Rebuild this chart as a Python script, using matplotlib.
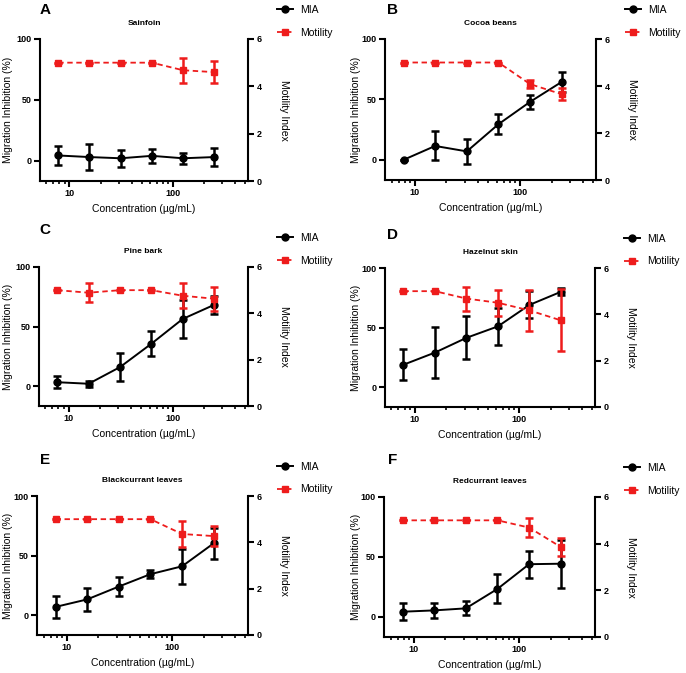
import matplotlib
matplotlib.use("Agg")
import matplotlib.pyplot as plt
import numpy as np
from matplotlib.lines import Line2D
from matplotlib.ticker import LogLocator, NullFormatter, FixedLocator, FixedFormatter

plt.rcParams['font.family'] = ['Liberation Sans', 'DejaVu Sans']

# concentrations (ug/mL)
conc = [7.8, 15.6, 31.25, 62.5, 125, 250]

letters = ['A', 'B', 'C', 'D', 'E', 'F']
titles = ['Sainfoin', 'Cocoa beans', 'Pine bark', 'Hazelnut skin',
          'Blackcurrant leaves', 'Redcurrant leaves']

# migration inhibition (%) mean and error
mia = [
    [4.3, 3.0, 2.0, 4.0, 2.0, 3.0],
    [0.0, 11.5, 7.0, 29.5, 48.0, 64.5],
    [3.3, 2.0, 16.0, 35.6, 56.4, 68.2],
    [18.8, 29.0, 41.4, 51.0, 69.0, 80.0],
    [6.9, 13.2, 24.0, 34.4, 41.0, 60.3],
    [4.4, 5.5, 7.2, 23.4, 44.0, 44.4],
]
mia_err = [
    [8.0, 11.0, 7.0, 5.5, 4.4, 7.6],
    [0.0, 12.0, 10.5, 8.5, 6.0, 8.5],
    [5.2, 2.7, 12.0, 10.7, 15.7, 7.8],
    [13.0, 21.3, 18.0, 15.3, 11.3, 2.8],
    [9.2, 9.4, 7.9, 3.3, 14.5, 13.0],
    [7.0, 6.3, 5.9, 12.1, 11.4, 20.0],
]

# motility index mean and error
mot = [
    [5.0, 5.0, 5.0, 5.0, 4.68, 4.6],
    [5.0, 5.0, 5.0, 5.0, 4.08, 3.65],
    [5.0, 4.89, 5.0, 5.0, 4.76, 4.63],
    [5.0, 5.0, 4.68, 4.5, 4.17, 3.74],
    [5.0, 5.0, 5.0, 5.0, 4.36, 4.27],
    [5.0, 5.0, 5.0, 5.0, 4.69, 3.86],
]
mot_err = [
    [0.0, 0.0, 0.0, 0.0, 0.52, 0.48],
    [0.0, 0.0, 0.0, 0.0, 0.18, 0.25],
    [0.0, 0.4, 0.0, 0.0, 0.53, 0.51],
    [0.0, 0.0, 0.52, 0.56, 0.9, 1.34],
    [0.0, 0.0, 0.0, 0.0, 0.54, 0.42],
    [0.0, 0.0, 0.0, 0.0, 0.42, 0.39],
]

# axes boxes in pixels (left, top, right, bottom) for a 686x673 figure
W, H = 686, 673
boxes = [
    (40, 39, 248, 181),
    (385, 39, 596, 180),
    (39, 267, 248, 406),
    (385, 268, 595, 407),
    (37, 496, 248, 635),
    (384, 497, 595, 637),
]
# panel letter centres in pixels
letter_pos = [(45, 10), (393, 10), (45, 230), (393, 235), (45, 460), (393, 460)]
# x centre (pixels) of the left y label
ylabel_x = [8, 356, 8, 356, 8, 356]

fig = plt.figure(figsize=(W / 100, H / 100), dpi=100)

red = '#ee1c1c'
dash = (0, (3, 2))

for i in range(6):
    l, t, r, b = boxes[i]
    ax = fig.add_axes([l / W, (H - b) / H, (r - l) / W, (b - t) / H])
    ax2 = ax.twinx()

    ax.errorbar(conc, mia[i], yerr=mia_err[i], color='black', lw=1.4,
                marker='o', ms=5, elinewidth=1.8, capsize=2.6, capthick=1.8,
                zorder=3)
    ax2.errorbar(conc, mot[i], yerr=mot_err[i], color=red, lw=1.3,
                 ls=dash, marker='s', ms=5, elinewidth=1.8,
                 capsize=2.6, capthick=1.8, zorder=2)

    ax.set_xscale('log')
    ax.set_xlim(5.2, 530)
    ax.set_ylim(-16.67, 100)
    ax2.set_ylim(0, 6)

    ax.set_yticks([0, 50, 100])
    ax2.set_yticks([0, 2, 4, 6])
    ax.xaxis.set_major_locator(FixedLocator([10, 100]))
    ax.xaxis.set_major_formatter(FixedFormatter(['10', '100']))
    ax.xaxis.set_minor_locator(LogLocator(base=10, subs=np.arange(2, 10)))
    ax.xaxis.set_minor_formatter(NullFormatter())

    for a in (ax, ax2):
        a.spines['top'].set_visible(False)
        for s in ('left', 'right', 'bottom'):
            a.spines[s].set_linewidth(1.5)
        a.tick_params(which='major', length=4, width=1.5, labelsize=6.5, pad=2)
        a.tick_params(which='minor', length=2.5, width=1.2)
        for lab in a.get_xticklabels() + a.get_yticklabels():
            lab.set_fontweight('bold')
    ax.spines['right'].set_visible(False)
    ax2.spines['left'].set_visible(False)
    ax2.spines['bottom'].set_visible(False)

    ax.set_xlabel('Concentration (µg/mL)', fontsize=7.5, labelpad=4)
    ax.set_ylabel('Migration Inhibition (%)', fontsize=7.5, va='center')
    ax.yaxis.set_label_coords((ylabel_x[i] - l) / (r - l), 0.5)
    ax2.set_ylabel('Motility Index', fontsize=7.5, rotation=270, labelpad=20)

    ax.set_title(titles[i], fontsize=6, fontweight='bold', pad=10)
    fig.text(letter_pos[i][0] / W, 1 - letter_pos[i][1] / H, letters[i],
             fontsize=11, fontweight='bold', ha='center', va='center')

    handles = [
        Line2D([], [], color='black', lw=1.4, marker='o', ms=5),
        Line2D([], [], color=red, lw=1.3, ls=dash, marker='s', ms=5),
    ]
    ax2.legend(handles, ['MIA', 'Motility'], loc='upper left',
               bbox_to_anchor=(1 + 29 / (r - l), 1 + 34 / (b - t)),
               frameon=False, fontsize=7.5, handlelength=1.5,
               handletextpad=0.7, labelspacing=1.2, borderpad=0,
               borderaxespad=0)

fig.savefig('out.png', dpi=100)
